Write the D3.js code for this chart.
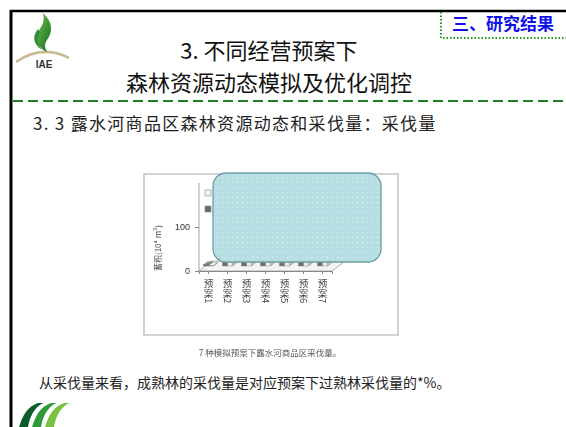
<!DOCTYPE html>
<html>
<head>
<meta charset="utf-8">
<script src="https://cdn.jsdelivr.net/npm/d3@7"></script>
<style>
  html, body { margin: 0; padding: 0; background: #fff; }
  svg { display: block; }
</style>
</head>
<body>
<svg id="slide" width="566" height="427"></svg>
<script>
// ---- chart data ----
const categories = ["预案1", "预案2", "预案3", "预案4", "预案5", "预案6", "预案7"];
const seriesNames = ["成熟林", "过熟林"];
const matureHarvest = [1, 120, 135, 140, 150, 155, 160];
const overmatureHarvest = [3, 60, 65, 70, 72, 75, 78];
const yTicks = [0, 100];

const svg = d3.select("#slide");
const cjk = "'Noto Sans CJK SC', 'Noto Sans', sans-serif";

const defs = svg.append("defs");
defs.append("filter").attr("id", "soft")
  .append("feGaussianBlur").attr("stdDeviation", 0.55);
defs.append("filter").attr("id", "softer")
  .append("feGaussianBlur").attr("stdDeviation", 0.75);
const dots = defs.append("pattern").attr("id", "dots")
  .attr("width", 5).attr("height", 5).attr("patternUnits", "userSpaceOnUse");
dots.append("rect").attr("width", 5).attr("height", 5).attr("fill", "#b7dfe3");
dots.append("rect").attr("x", 2).attr("y", 2).attr("width", 1).attr("height", 1).attr("fill", "#e4f4f5");
const flame = defs.append("linearGradient").attr("id", "flame")
  .attr("x1", 0).attr("y1", 0).attr("x2", 1).attr("y2", 1);
flame.append("stop").attr("offset", 0).attr("stop-color", "#7cc242");
flame.append("stop").attr("offset", 1).attr("stop-color", "#0b6b2e");

// ---- slide frame ----
svg.append("line").attr("x1", 10).attr("x2", 566).attr("y1", 11).attr("y2", 11)
  .attr("stroke", "#000").attr("stroke-width", 2.5);
svg.append("line").attr("x1", 11).attr("x2", 11).attr("y1", 10).attr("y2", 427)
  .attr("stroke", "#000").attr("stroke-width", 3);
svg.append("line").attr("x1", 13).attr("x2", 566).attr("y1", 101).attr("y2", 101)
  .attr("stroke", "#1f7f1f").attr("stroke-width", 2).attr("stroke-dasharray", "10,5");

// section tag, top right
svg.append("path").attr("d", "M441,12 V38 H566")
  .attr("fill", "none").attr("stroke", "#1d9a1d").attr("stroke-width", 2)
  .attr("stroke-dasharray", "1.5,2");
svg.append("text").attr("x", 452).attr("y", 30)
  .attr("font-family", cjk).attr("font-weight", 700).attr("font-size", 17)
  .attr("fill", "#1010e8").text("三、研究结果");

// top-left emblem
const logo = svg.append("g");
logo.append("path").attr("d", "M16,62 Q42,44 69,58")
  .attr("fill", "none").attr("stroke", "#c9b98e").attr("stroke-width", 2.5);
logo.append("path")
  .attr("d", "M43,13 C53,22 53,32 47,40 C44,44 45,48 47,52 C39,48 35,42 37,35 C39,28 46,24 43,13 Z")
  .attr("fill", "url(#flame)");
logo.append("path")
  .attr("d", "M38,29 C32,36 33,44 42,50 C37,44 36,38 40,33 Z")
  .attr("fill", "#2f8f3a");
logo.append("text").attr("x", 44).attr("y", 68).attr("text-anchor", "middle")
  .attr("font-family", "'Liberation Sans', Arial, sans-serif").attr("font-weight", 700)
  .attr("font-size", 10).attr("fill", "#333").text("IAE");

// bottom-left emblem
const stripes = svg.append("g");
[["#0b5e2a", 0], ["#2f9a3a", 13], ["#7cc242", 26]].forEach(([c, dx]) => {
  stripes.append("path")
    .attr("d", `M${19 + dx},427 C${23 + dx},415 ${27 + dx},407 ${38 + dx},403 L${43 + dx},403 C${34 + dx},408 ${30 + dx},416 ${28 + dx},427 Z`)
    .attr("fill", c);
});

// titles
const title = svg.append("g").attr("font-family", cjk).attr("font-size", 22)
  .attr("font-weight", 400).attr("fill", "#111").attr("text-anchor", "middle");
title.append("text").attr("x", 269).attr("y", 59).text("3. 不同经营预案下");
title.append("text").attr("x", 269).attr("y", 91).text("森林资源动态模拟及优化调控");

svg.append("text").attr("x", 33).attr("y", 130)
  .attr("font-family", cjk).attr("font-size", 17).attr("font-weight", 400)
  .attr("letter-spacing", 1.3).attr("fill", "#222")
  .text("3. 3 露水河商品区森林资源动态和采伐量：采伐量");

svg.append("text").attr("x", 39).attr("y", 388)
  .attr("font-family", cjk).attr("font-size", 14).attr("fill", "#222")
  .text("从采伐量来看，成熟林的采伐量是对应预案下过熟林采伐量的*%。");

// ---- embedded 3D column chart ----
const chart = svg.append("g").attr("filter", "url(#soft)");
chart.append("rect").attr("x", 144).attr("y", 174).attr("width", 254).attr("height", 161)
  .attr("fill", "#fff").attr("stroke", "#c4c4c4").attr("stroke-width", 1.5);

const depthX = 13, depthY = -10;
const x = d3.scaleBand().domain(categories).range([199, 332]);
const y = d3.scaleLinear().domain([0, 200]).range([271, 183]);

// floor
const y0 = y(0), xa = x.range()[0], xb = x.range()[1];
chart.append("path")
  .attr("d", `M${xa},${y0} L${xb},${y0} L${xb + depthX},${y0 + depthY} L${xa + depthX},${y0 + depthY} Z`)
  .attr("fill", "#f4f4f4").attr("stroke", "#9a9a9a").attr("stroke-width", 0.8);

// y axis
chart.append("line").attr("x1", xa).attr("x2", xa).attr("y1", y0).attr("y2", y(200))
  .attr("stroke", "#888").attr("stroke-width", 0.8);
const yAxis = chart.append("g").attr("transform", `translate(${xa},0)`)
  .call(d3.axisLeft(y).tickValues(yTicks).tickSize(4).tickPadding(5));
yAxis.select(".domain").remove();
yAxis.selectAll("line").attr("stroke", "#888");
yAxis.selectAll("text").attr("font-family", "'Liberation Sans', Arial, sans-serif")
  .attr("font-size", 9).attr("fill", "#333");

chart.append("text")
  .attr("transform", `translate(161,248) rotate(-90)`)
  .attr("text-anchor", "middle").attr("font-family", cjk).attr("font-size", 8).attr("fill", "#444")
  .text("蓄积(10⁴ m³)");

// x ticks and vertical category labels
const xAxis = chart.append("g").attr("transform", `translate(0,${y0})`)
  .call(d3.axisBottom(x).tickSize(3).tickFormat(""));
xAxis.select(".domain").attr("stroke", "#888");
xAxis.selectAll("line").attr("stroke", "#888");
chart.selectAll(".xlab").data(categories).join("text")
  .attr("class", "xlab")
  .attr("x", d => x(d) + x.bandwidth() / 2)
  .attr("y", 279)
  .style("writing-mode", "vertical-rl")
  .attr("font-family", cjk).attr("font-size", 9.5).attr("fill", "#444")
  .text(d => d);

// columns, set halfway back on the floor
function column(g, cx, w, value, front, side, top) {
  const bx = cx, by = y0 + depthY / 2, h = y0 - y(value);
  const dx = 4, dy = -3;
  g.append("path").attr("d", `M${bx + w},${by} L${bx + w + dx},${by + dy} L${bx + w + dx},${by + dy - h} L${bx + w},${by - h} Z`)
    .attr("fill", side).attr("stroke", "#777").attr("stroke-width", 0.4);
  g.append("path").attr("d", `M${bx},${by - h} L${bx + dx},${by - h + dy} L${bx + w + dx},${by - h + dy} L${bx + w},${by - h} Z`)
    .attr("fill", top).attr("stroke", "#777").attr("stroke-width", 0.4);
  g.append("rect").attr("x", bx).attr("y", by - h).attr("width", w).attr("height", h)
    .attr("fill", front).attr("stroke", "#777").attr("stroke-width", 0.4);
}
const bars = chart.append("g");
categories.forEach((c, i) => {
  const left = x(c) + depthX / 2 - 2;
  column(bars, left, 5, overmatureHarvest[i], "#6e6e6e", "#555", "#8a8a8a");
  column(bars, left + 5, 5, matureHarvest[i], "#ececec", "#bdbdbd", "#f8f8f8");
});

// legend
const legend = chart.append("g");
[[seriesNames[0], "#f2f2f2"], [seriesNames[1], "#6a6a6a"]].forEach(([name, fill], i) => {
  legend.append("rect").attr("x", 205).attr("y", 190 + i * 16).attr("width", 6).attr("height", 6)
    .attr("fill", fill).attr("stroke", "#888").attr("stroke-width", 0.6);
  legend.append("text").attr("x", 216).attr("y", 196 + i * 16)
    .attr("font-family", cjk).attr("font-size", 8).attr("fill", "#444").text(name);
});

svg.append("text").attr("x", 270).attr("y", 356).attr("text-anchor", "middle")
  .attr("filter", "url(#softer)")
  .attr("font-family", cjk).attr("font-size", 8.5).attr("fill", "#555")
  .text("7 种模拟预案下露水河商品区采伐量。");

// callout panel laid over the plot
svg.append("rect").attr("x", 213).attr("y", 173).attr("width", 168).attr("height", 89)
  .attr("rx", 13).attr("ry", 13)
  .attr("fill", "url(#dots)").attr("stroke", "#6f9ea2").attr("stroke-width", 1.3);
</script>
</body>
</html>
